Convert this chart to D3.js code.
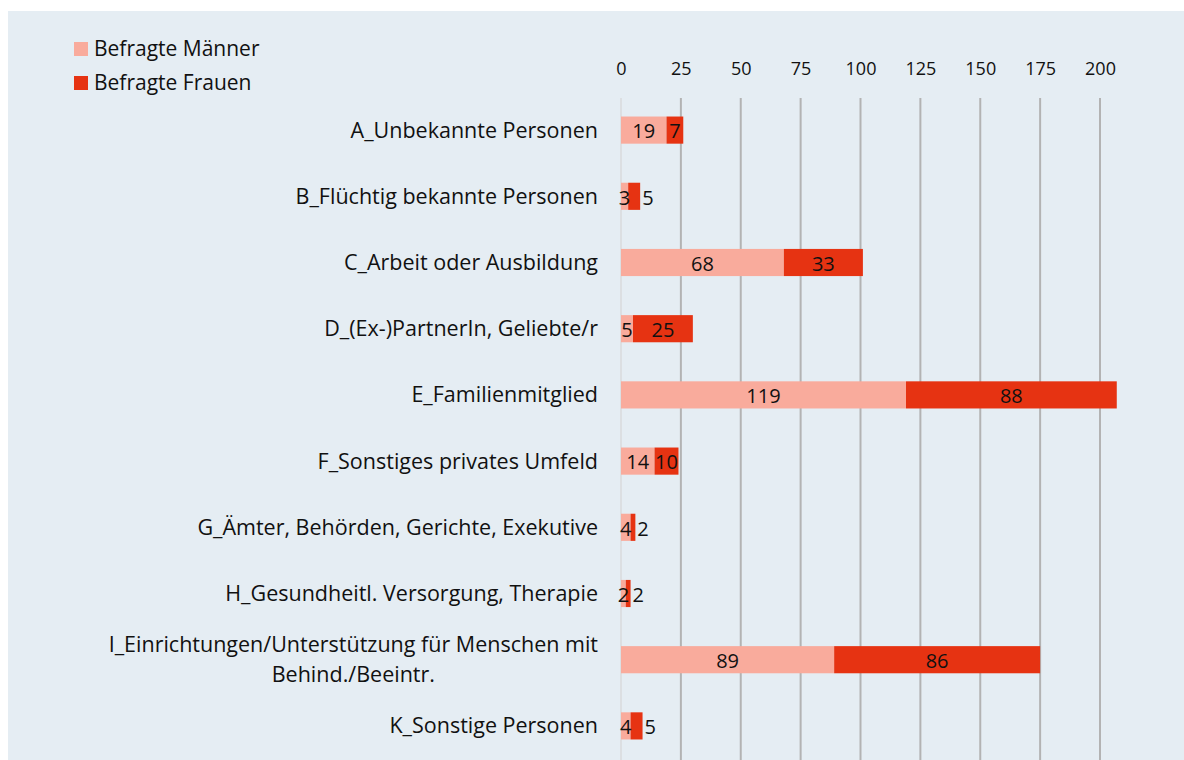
<!DOCTYPE html>
<html>
<head>
<meta charset="utf-8">
<script src="https://cdn.jsdelivr.net/npm/d3@7"></script>
<style>
  html, body { margin: 0; padding: 0; background: #ffffff; }
  svg { display: block; }
  text { font-family: "Open Sans", "Noto Sans", sans-serif; fill: #111; }
</style>
</head>
<body>
<svg id="chart" width="1184" height="760"></svg>
<script>
// Categories (top to bottom)
const categories = [
  "A_Unbekannte Personen",
  "B_Flüchtig bekannte Personen",
  "C_Arbeit oder Ausbildung",
  "D_(Ex-)PartnerIn, Geliebte/r",
  "E_Familienmitglied",
  "F_Sonstiges privates Umfeld",
  "G_Ämter, Behörden, Gerichte, Exekutive",
  "H_Gesundheitl. Versorgung, Therapie",
  "I_Einrichtungen/Unterstützung für Menschen mit Behind./Beeintr.",
  "K_Sonstige Personen"
];
// Wrapped label lines for the long category
const labelLines = {
  "I_Einrichtungen/Unterstützung für Menschen mit Behind./Beeintr.":
    ["I_Einrichtungen/Unterstützung für Menschen mit", "Behind./Beeintr."]
};

const seriesNames = ["Befragte Männer", "Befragte Frauen"];
const maennerValues = [19, 3, 68, 5, 119, 14, 4, 2, 89, 4];
const frauenValues  = [7, 5, 33, 25, 88, 10, 2, 2, 86, 5];
const tickValues = [0, 25, 50, 75, 100, 125, 150, 175, 200];

const colors = ["#F9AB9C", "#E63312"];
const FONT = '"Open Sans", "Noto Sans", sans-serif';

const svg = d3.select("#chart");

// panel background
svg.append("rect")
  .attr("x", 8).attr("y", 11)
  .attr("width", 1176).attr("height", 749)
  .attr("fill", "#E5EDF3");

const x = d3.scaleLinear().domain([0, 200]).range([621, 1100]);
const y = d3.scaleBand().domain(categories).range([97, 759]).paddingInner(0.59).paddingOuter(0.295);

// grid lines
svg.append("g").selectAll("line")
  .data(tickValues)
  .join("line")
  .attr("x1", d => x(d)).attr("x2", d => x(d))
  .attr("y1", 98).attr("y2", 760)
  .attr("stroke", d => d === 0 ? "#DCDFE2" : "#B3B3B3")
  .attr("stroke-width", 2);

// top axis labels
const axis = d3.axisTop(x).tickValues(tickValues).tickSize(0).tickPadding(0);
const gAxis = svg.append("g").attr("transform", "translate(0,75)").call(axis);
gAxis.select(".domain").remove();
gAxis.selectAll("text")
  .style("font-family", FONT)
  .style("font-size", "18px")
  .attr("fill", "#111");

// stacked data
const rows = categories.map((c, i) => ({ cat: c, values: [maennerValues[i], frauenValues[i]] }));
const stack = d3.stack().keys([0, 1]).value((d, k) => d.values[k]);
const stacked = stack(rows);

const gBars = svg.append("g");
stacked.forEach((layer, si) => {
  gBars.append("g").selectAll("rect")
    .data(layer)
    .join("rect")
    .attr("x", d => x(d[0]))
    .attr("y", d => y(d.data.cat))
    .attr("width", d => x(d[1]) - x(d[0]))
    .attr("height", y.bandwidth())
    .attr("fill", colors[si]);
});

// value labels: centred in the segment; narrow outer segments get the label after the bar end
const gLabels = svg.append("g");
stacked.forEach((layer, si) => {
  layer.forEach(d => {
    const v = d.data.values[si];
    const x0 = x(d[0]), x1 = x(d[1]);
    const t = gLabels.append("text")
      .attr("y", y(d.data.cat) + y.bandwidth() / 2 + 1)
      .attr("dy", "0.36em")
      .style("font-size", "20px")
      .text(v);
    if (si === 1 && (x1 - x0) < 14) {
      t.attr("x", x1 + 2).attr("text-anchor", "start");
    } else {
      t.attr("x", (x0 + x1) / 2).attr("text-anchor", "middle");
    }
  });
});

// category labels
const gCats = svg.append("g");
categories.forEach(c => {
  const lines = labelLines[c] || [c];
  const cy = y(c) + y.bandwidth() / 2;
  const lh = 30;
  const t = gCats.append("text")
    .style("font-size", "21.5px")
    .attr("text-anchor", "end");
  lines.forEach((ln, i) => {
    t.append("tspan")
      .attr("x", 598)
      .attr("y", cy + (i - (lines.length - 1) / 2) * lh)
      .attr("dy", "0.35em")
      .text(ln);
  });
  if (lines.length > 1) {
    // center the wrapped block under its widest line
    const w = Math.max(...t.selectAll("tspan").nodes().map(n => n.getComputedTextLength()));
    t.attr("text-anchor", "middle");
    t.selectAll("tspan").attr("x", 598 - w / 2);
  }
});

// legend
const gLeg = svg.append("g");
seriesNames.forEach((s, i) => {
  const ly = 49 + i * 34;
  gLeg.append("rect")
    .attr("x", 74).attr("y", ly - 7)
    .attr("width", 14).attr("height", 14)
    .attr("fill", colors[i]);
  gLeg.append("text")
    .attr("x", 94).attr("y", ly)
    .attr("dy", "0.35em")
    .style("font-size", "21px")
    .text(s);
});
</script>
</body>
</html>
